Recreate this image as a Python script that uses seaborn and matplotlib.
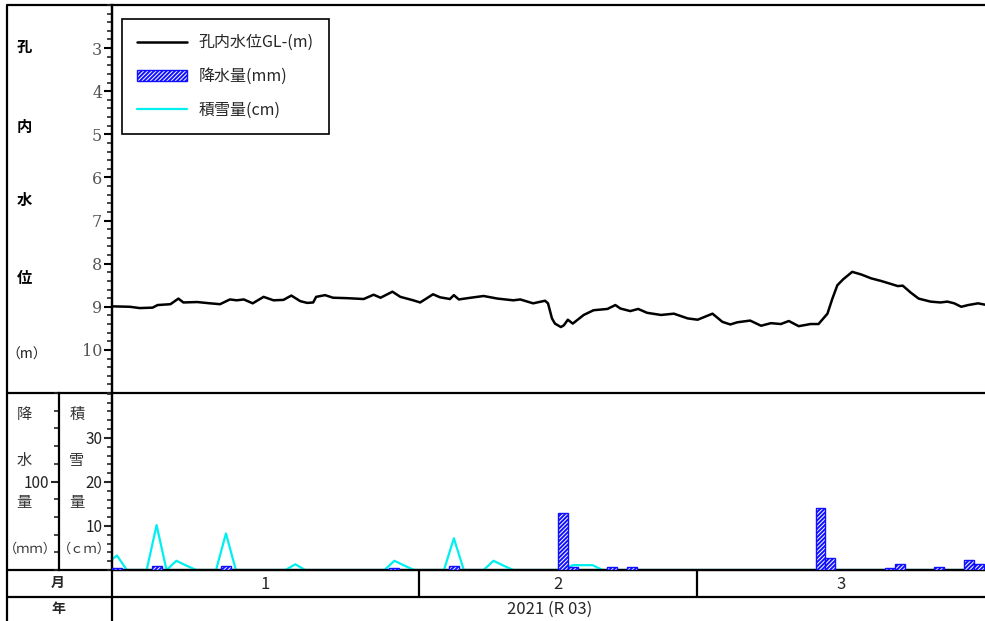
import matplotlib
matplotlib.use("Agg")
import matplotlib.pyplot as plt
from matplotlib.ticker import FixedLocator, MultipleLocator
import pandas as pd
import seaborn as sns


# ---- data ----
# water level GL-(m), time as day offset from 2021-01-01 00:00
wl_day = [0, 1.8, 2.8, 4.1, 4.6, 5.9, 6.7, 7.2, 8.6, 9.9, 10.9, 11.9, 12.6, 13.3,
          14.2, 15.3, 16.3, 17.3, 18.1, 19.0, 19.7, 20.3, 20.6, 21.5, 22.3, 23.7,
          25.4, 26.4, 27.1, 28.3, 29.1, 30.4, 31.1, 32.4, 33.1, 34.1, 34.5, 35.0,
          36.2, 37.5, 38.9, 40.5, 41.2, 42.5, 43.7, 44.0, 44.4, 44.7, 45.3, 45.6,
          46.0, 46.5, 47.6, 48.6, 50.0, 50.8, 51.3, 52.3, 53.1, 54.0, 55.4, 56.7,
          58.1, 59.1, 60.6, 61.6, 62.4, 63.1, 64.4, 65.5, 66.5, 67.5, 68.3, 69.3,
          70.5, 71.3, 72.2, 72.7, 73.2, 73.8, 74.7, 75.6, 76.6, 77.6, 78.6, 79.3,
          79.8, 80.6, 81.4, 82.6, 83.6, 84.3, 85.0, 85.7, 86.4, 87.4, 88.3]
wl_m = [8.99, 9.00, 9.03, 9.02, 8.96, 8.94, 8.81, 8.90, 8.89, 8.92, 8.94, 8.83, 8.85, 8.83,
        8.92, 8.77, 8.85, 8.84, 8.74, 8.87, 8.91, 8.90, 8.77, 8.73, 8.79, 8.80,
        8.82, 8.72, 8.79, 8.65, 8.77, 8.85, 8.90, 8.71, 8.78, 8.82, 8.73, 8.83,
        8.79, 8.75, 8.81, 8.85, 8.83, 8.92, 8.86, 8.92, 9.27, 9.39, 9.47, 9.43,
        9.30, 9.39, 9.19, 9.08, 9.05, 8.96, 9.04, 9.10, 9.05, 9.14, 9.19, 9.16,
        9.27, 9.30, 9.16, 9.35, 9.41, 9.36, 9.32, 9.44, 9.38, 9.40, 9.33, 9.45,
        9.40, 9.40, 9.16, 8.81, 8.50, 8.36, 8.19, 8.25, 8.34, 8.40, 8.47, 8.52,
        8.51, 8.67, 8.81, 8.88, 8.90, 8.88, 8.92, 9.00, 8.96, 8.92, 8.96]

# daily snow depth (cm) from 2020-12-31 to 2021-03-30
snow_cm = [1.5,
           3.3, 0, 0, 0, 10.2, 0, 2.1, 1.0, 0, 0, 0, 8.3, 0, 0, 0, 0, 0, 0, 1.3, 0,
           0, 0, 0, 0, 0, 0, 0, 0, 2.1, 1.0, 0,
           0, 0, 0, 7.2, 0, 0, 0, 2.1, 1.0, 0, 0, 0, 0, 0, 0, 1.1, 1.1, 1.1, 0,
           0, 0, 0, 0, 0, 0, 0, 0, 0,
           0, 0, 0, 0, 0, 0, 0, 0, 0, 0, 0, 0, 0, 0, 0, 0, 0, 0, 0, 0,
           0, 0, 0, 0, 0, 0, 0, 0, 0, 0]

# daily precipitation (mm), only days with rain
rain_dates = ["2021-01-01", "2021-01-05", "2021-01-12", "2021-01-29", "2021-02-04",
              "2021-02-15", "2021-02-16", "2021-02-20", "2021-02-22", "2021-03-13",
              "2021-03-14", "2021-03-20", "2021-03-21", "2021-03-25", "2021-03-28",
              "2021-03-29"]
rain_mm = [2, 4.5, 4.5, 2, 4.5, 64, 3.4, 3.4, 3.4, 70, 14, 2, 7, 3, 11, 6.5]

month_starts = ["2021-01-01", "2021-02-01", "2021-03-01"]
month_labels = ["1", "2", "3"]
year_label = "2021 (R 03)"
legend_labels = ["孔内水位GL-(m)", "降水量(mm)", "積雪量(cm)"]

wl_ticks = [3, 4, 5, 6, 7, 8, 9, 10]
snow_ticks = [10, 20, 30]
rain_ticks = [100]


# ---- figure ----
sns.set_style("white")
CJK = ["Noto Sans CJK JP", "DejaVu Sans"]
plt.rcParams["font.family"] = CJK
plt.rcParams["hatch.linewidth"] = 1.4

W, H = 985, 621
fig = plt.figure(figsize=(W / 100, H / 100), dpi=100)


def box(x0, y0, x1, y1):
    """ pixel box (top-left origin) -> figure fraction rect """
    return [x0 / W, 1 - y1 / H, (x1 - x0) / W, (y1 - y0) / H]


# frame / table lines and side labels, in pixel coords
axf = fig.add_axes([0, 0, 1, 1])
axf.set_xlim(0, W)
axf.set_ylim(H, 0)
axf.axis("off")
lw = 1.6
for y in [5, 393, 570, 597]:
    axf.plot([7, W], [y, y], color="black", lw=lw, solid_capstyle="butt")
axf.plot([7, 7], [5, H], color="black", lw=lw)
axf.plot([112, 112], [5, H], color="black", lw=lw)

for ch, y in zip(["孔", "内", "水", "位"], [47, 127, 200, 278]):
    axf.text(24, y, ch, fontsize=11, ha="center", va="center", color="black",
             fontweight="bold")
axf.text(27, 355, "（m）", fontsize=10, ha="center", va="center", color="#222")
for ch, y in zip(["降", "水", "量"], [414, 460, 503]):
    axf.text(24, y, ch, fontsize=11, ha="center", va="center", color="#333")
for ch, y in zip(["積", "雪", "量"], [414, 460, 503]):
    axf.text(77, y, ch, fontsize=11, ha="center", va="center", color="#333")
axf.text(30, 549, "（ｍｍ）", fontsize=9.5, ha="center", va="center", color="#333")
axf.text(84, 549, "（ｃｍ）", fontsize=9.5, ha="center", va="center", color="#333")
axf.text(58, 583, "月", fontsize=10, ha="center", va="center", fontweight="bold")
axf.text(58, 609, "年", fontsize=10, ha="center", va="center", fontweight="bold")

start = pd.Timestamp("2021-01-01")
x_end = start + pd.Timedelta(days=88.1)

# ---- water level panel ----
ax_wl = fig.add_axes(box(112, 5, W, 393))
ax_wl.set_facecolor("none")
wl_time = start + pd.to_timedelta(wl_day, unit="D")
sns.lineplot(x=wl_time, y=wl_m, ax=ax_wl, color="black", lw=1.8,
             estimator=None, sort=False)
ax_wl.set_xlim(start, x_end)
ax_wl.set_ylim(11, 2)
ax_wl.yaxis.set_major_locator(FixedLocator(wl_ticks))
ax_wl.yaxis.set_minor_locator(MultipleLocator(0.2))
ax_wl.tick_params(axis="y", which="major", direction="out", length=6, width=1.5,
                  labelsize=11.5, pad=1, colors="black", labelcolor="#555", left=True,
                  labelfontfamily="DejaVu Serif")
ax_wl.tick_params(axis="y", which="minor", direction="out", length=3.5, width=1.2, left=True)
ax_wl.tick_params(axis="x", bottom=False, labelbottom=False)
ax_wl.set_xlabel("")
ax_wl.set_ylabel("")
for s in ["top", "right", "bottom"]:
    ax_wl.spines[s].set_visible(False)
ax_wl.spines["left"].set_linewidth(lw)
ax_wl.spines["left"].set_color("black")

# ---- snow / precipitation panel ----
ax_s = fig.add_axes(box(112, 393, W, 570), sharex=ax_wl)
ax_s.set_facecolor("none")
snow_time = pd.date_range("2020-12-31 12:00", periods=len(snow_cm), freq="D")
sns.lineplot(x=snow_time, y=snow_cm, ax=ax_s, color="#00f0f0", lw=1.6,
             estimator=None, sort=False)
ax_s.set_ylim(0, 40.2)
ax_s.yaxis.set_major_locator(FixedLocator(snow_ticks))
ax_s.yaxis.set_minor_locator(MultipleLocator(2))
ax_s.tick_params(axis="y", which="major", direction="out", length=6, width=1.5,
                 labelsize=11, pad=1, labelcolor="#222", left=True)
ax_s.tick_params(axis="y", which="minor", direction="out", length=3.5, width=1.2, left=True)
ax_s.tick_params(axis="x", bottom=False, labelbottom=False)
ax_s.set_xlabel("")
ax_s.set_ylabel("")
for s in ["top", "right"]:
    ax_s.spines[s].set_visible(False)
ax_s.spines["left"].set_linewidth(lw)
ax_s.spines["bottom"].set_linewidth(lw)
ax_s.spines["left"].set_color("black")
ax_s.spines["bottom"].set_color("black")

ax_p = ax_s.twinx()
bars = ax_p.bar(pd.to_datetime(rain_dates), rain_mm, width=pd.Timedelta(days=1),
                align="edge", facecolor="white", edgecolor="#1010ff", hatch="////////",
                lw=1.0, zorder=3)
ax_p.set_ylim(0, 200)
ax_p.yaxis.set_ticks_position("left")
ax_p.yaxis.set_label_position("left")
ax_p.spines["left"].set_position(("axes", -53 / 873))
for s in ["top", "right", "bottom"]:
    ax_p.spines[s].set_visible(False)
ax_p.spines["left"].set_visible(True)
ax_p.spines["left"].set_linewidth(lw)
ax_p.spines["left"].set_color("black")
ax_p.yaxis.set_major_locator(FixedLocator(rain_ticks))
ax_p.yaxis.set_minor_locator(MultipleLocator(20))
ax_p.tick_params(axis="y", which="major", direction="out", length=6, width=1.5,
                 labelsize=11, pad=1, labelcolor="#222", left=True, right=False,
                 labelleft=True, labelright=False)
ax_p.tick_params(axis="y", which="minor", direction="out", length=3.5, width=1.2,
                 left=True, right=False)
ax_p.set_xlim(start, x_end)

# ---- month row ----
ax_m = fig.add_axes(box(112, 570, W, 597), sharex=ax_wl)
ax_m.axis("off")
ax_m.set_ylim(0, 1)
ms = pd.to_datetime(month_starts)
for d in ms[1:]:
    ax_m.axvline(d, color="black", lw=lw)
ends = list(ms[1:]) + [x_end]
for s0, s1, lab in zip(ms, ends, month_labels):
    ax_m.text(s0 + (s1 - s0) / 2, 0.45, lab, fontsize=12, ha="center", va="center")
ax_wl.set_xlim(start, x_end)

fig.text(550 / W, 1 - 609 / H, year_label, fontsize=12, ha="center", va="center")

# ---- legend ----
l_wl = ax_wl.lines[0]
l_snow = ax_s.lines[0]
leg = ax_wl.legend([l_wl, bars, l_snow], legend_labels,
                   loc="upper left", bbox_to_anchor=((122 - 112) / 873, 1 - (19 - 5) / 388),
                   borderaxespad=0, fontsize=11.5, handlelength=3.1, handletextpad=0.75,
                   borderpad=0.95, labelspacing=1.05, fancybox=False, framealpha=1,
                   edgecolor="black")
leg.get_frame().set_linewidth(1.2)

fig.savefig("out.png", dpi=100)
